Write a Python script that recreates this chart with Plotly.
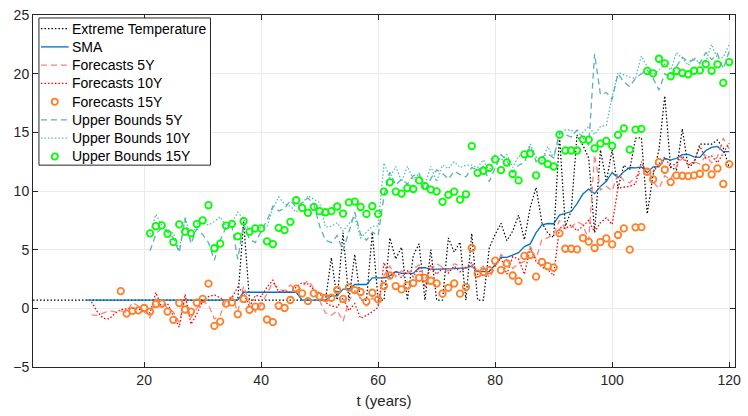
import plotly.graph_objects as go

# ---------------- data ----------------
extreme_t = list(range(1, 121))
extreme = [
    0.7, 0.7, 0.7, 0.7, 0.7, 0.7, 0.7, 0.7, 0.7, 0.7,
    0.7, 0.7, 0.7, 0.7, 0.7, 0.7, 0.7, 0.7, 0.7, 0.7,
    0.7, 0.7, 0.7, 0.7, 0.7, 0.7, 0.7, 0.7, 0.7, 0.7,
    0.7, 0.7, 0.7, 0.7, 0.7, 0.7, 7.4, 0.7, 0.7, 0.7,
    0.7, 0.7, 0.7, 0.7, 0.7, 0.7, 0.7, 0.7, 0.7, 0.7,
    0.7, 4.32, 0.7, 6.44, 0.7, 4.6, 0.7, 0.7, 6.44, 0.7,
    0.7, 6.0, 4.2, 5.2, 0.7, 4.5, 5.5, 0.7, 5.0, 0.7,
    0.7, 6.0, 4.8, 5.65, 0.7, 6.38, 0.7, 0.7, 5.17, 6.3,
    7.25, 5.77, 6.58, 7.94, 5.85, 8.62, 10.3, 7.3, 6.4, 6.05,
    14.7, 7.0, 8.3, 14.8, 13.9, 12.8, 6.45, 13.5, 10.8, 13.5,
    10.25, 12.2, 11.8, 14.5, 14.55, 8.05, 11.4, 13.5, 18.1, 12.0,
    11.8, 15.3, 12.0, 12.4, 14.0, 14.0, 14.0, 14.35, 13.65, 12.0,
]

sma_t = list(range(10, 121))
sma = [
    0.7, 0.7, 0.7, 0.7, 0.7, 0.7, 0.7, 0.7, 0.7, 0.7,
    0.7, 0.7, 0.7, 0.7, 0.7, 0.7, 0.7, 0.7, 0.7, 0.7,
    0.7, 0.7, 0.7, 0.7, 0.7, 0.7, 0.7,
    1.37, 1.37, 1.37, 1.37, 1.37, 1.37, 1.37, 1.37, 1.37, 1.37,
    0.7, 0.7, 0.7, 0.7, 0.7,
    1.06, 1.06, 1.64, 1.64, 2.03, 2.03, 2.03, 2.6, 2.6, 2.6,
    2.77, 3.12, 2.99, 2.99, 2.98, 3.46, 3.46, 3.32, 3.32, 3.32,
    3.32, 3.38, 3.43, 3.43, 3.61, 3.13, 3.13, 3.15, 3.71, 4.37,
    4.34, 4.52, 4.75, 5.26, 5.49, 6.45, 7.11, 7.23, 7.21, 7.95,
    8.07, 8.25, 8.93, 9.74, 10.16, 9.77, 10.39, 10.83, 11.58, 11.13,
    11.65, 12.0, 11.97, 12.04, 11.56, 12.06, 12.06, 12.79, 12.64, 12.79,
    13.1, 13.12, 12.91, 12.86, 13.45, 13.71, 13.8, 13.35, 13.35,
]

fc5_t = list(range(11, 121))
fc5 = [
    -0.55, -0.6, -0.4, -0.2, -0.3, -0.2, -0.35, 0.5, 0.2, -0.3,
    -0.8, 0.8, 0.5, 0.0, -0.3, -1.2, 0.9, -0.8, 0.0, 0.6,
    0.3, -0.9, -0.6, 0.7, 1.0, -0.3, 1.9, 0.5, -0.3, 0.3,
    1.2, 2.2, 1.6, 1.5, 2.0, 1.5, 1.8, 2.4, 1.7, 0.7,
    -0.4, -0.6, -0.2, -1.1, 0.6, 1.5, 0.8, 0.2, 0.9, 0.3,
    2.8, 3.6, 2.7, 3.2, 2.9, 3.4, 3.7, 2.5, 3.3, 3.8,
    3.5, 3.2, 3.8, 3.6, 3.4, 3.5, 3.3, 3.6, 2.6, 3.5,
    4.6, 4.1, 3.4, 3.8, 4.0, 5.3, 4.2, 5.9, 6.0, 6.3,
    7.5, 6.8, 6.9, 7.4, 7.1, 5.8, 13.1, 10.1, 10.4, 10.0,
    11.5, 10.9, 10.7, 11.2, 11.6, 11.9, 10.8, 10.2, 11.3, 11.0,
    12.1, 12.8, 12.2, 12.5, 12.3, 13.0, 12.4, 12.9, 14.5, 13.6,
]

fc10_t = list(range(11, 121))
fc10 = [
    0.55, -0.3, -0.85, -0.9, -0.45, -0.1, -0.05, 0.0, -0.05, -0.2,
    -0.4, 1.35, 0.1, 0.4, -0.6, -1.6, 1.2, -1.35, -0.5, 0.65,
    1.0, 1.15, 0.9, 0.6, 0.9, 1.8, 1.35, 0.1, 1.1, 1.0,
    1.8, 2.4, 1.4, 1.5, 1.4, 1.8, 2.2, 2.07, 1.6, 1.3,
    0.5, 0.2, 0.1, 0.9, -0.2, 0.4, -0.85, -0.6, -0.3, 0.1,
    3.9, 2.6, 3.2, 2.6, 3.2, 2.7, 3.4, 1.8, 3.7, 2.9,
    3.4, 3.0, 3.6, 3.1, 3.5, 3.9, 2.9, 3.3, 3.2, 3.6,
    4.3, 2.9, 4.4, 4.2, 2.9, 5.1, 4.0, 3.5, 3.3, 2.8,
    6.9, 6.8, 7.1, 6.6, 7.0, 7.5, 6.5, 7.3, 7.7, 7.15,
    10.25, 10.3, 10.4, 10.6, 12.5, 11.4, 11.6, 12.3, 12.9, 12.0,
    12.4, 13.0, 12.2, 12.5, 13.8, 12.8, 13.0, 12.4, 13.2, 14.07,
]

fc15_t = list(range(16, 121))
fc15 = [
    1.47, -0.45, -0.22, -0.17, 0.03,
    -0.28, 0.37, 0.4, -0.28, -0.98, 0.45, -0.1, -0.28, 0.48, 0.8,
    2.1, -1.5, -1.13, 0.4, 0.5, -0.5, 0.8, -0.12, 0.15, 0.16,
    -0.95, -1.17, 0.22, 0.03, 0.71, 1.68, 1.27, 0.62, 1.27, 1.02,
    0.88, 0.9, 1.56, 0.8, 1.78, 1.56, 1.39, 0.57, 1.33, 0.76,
    1.9, 2.8, 1.9, 1.61, 1.95, 2.15, 2.6, 2.6, 2.35, 2.12,
    1.25, 1.75, 2.12, 1.25, 1.81, 5.15, 2.95, 3.1, 3.25, 4.06,
    3.25, 3.83, 2.8, 2.32, 4.47, 4.55, 2.7, 3.95, 3.59, 3.47,
    6.39, 5.08, 5.08, 5.03, 5.99, 5.68, 5.14, 5.65, 5.96, 5.45,
    6.25, 6.81, 5.0, 6.9, 6.92, 11.64, 10.99, 12.46, 11.81, 10.76,
    11.33, 11.3, 11.27, 11.33, 11.47, 12.0, 11.41, 11.92, 10.6, 12.29,
]

ub5_t = list(range(21, 121))
ub5 = [
    4.9, 6.3, 6.9, 6.5, 6.0, 4.75, 7.6, 5.5, 6.8, 6.3,
    5.6, 4.1, 5.8, 6.9, 7.0, 4.2, 7.2, 5.9, 5.6, 6.5,
    7.5, 8.7, 8.3, 8.5, 9.2, 8.6, 9.0, 9.4, 8.9, 7.0,
    5.8, 5.6, 6.2, 4.9, 6.5, 8.2, 6.3, 5.8, 6.5, 6.2,
    9.6, 11.6, 10.5, 11.0, 10.6, 11.3, 11.5, 10.0, 11.05, 11.8,
    11.5, 11.0, 11.7, 11.4, 11.2, 12.0, 11.8, 12.1, 10.8, 11.9,
    13.1, 12.6, 11.6, 12.2, 12.4, 13.9, 12.5, 12.9, 13.2, 12.8,
    15.0, 14.8, 14.6, 15.2, 14.6, 13.9, 21.7, 18.2, 18.4, 17.8,
    20.0, 19.3, 18.9, 19.6, 20.0, 20.3, 19.6, 18.6, 20.0, 19.7,
    20.6, 21.4, 21.0, 21.2, 20.9, 21.8, 21.2, 21.7, 20.4, 21.9,
]

ub10_t = list(range(21, 121))
ub10 = [
    6.3, 8.0, 7.1, 6.6, 6.4, 4.9, 7.8, 5.9, 7.2, 7.3,
    7.1, 7.4, 7.8, 7.0, 7.3, 8.2, 7.6, 6.6, 6.5, 6.9,
    7.0, 8.5, 9.5, 8.9, 8.7, 8.2, 8.9, 9.6, 9.3, 9.0,
    6.9, 7.0, 7.3, 6.6, 7.2, 7.85, 6.0, 6.5, 7.0, 7.0,
    12.4, 11.1, 12.1, 10.8, 12.1, 11.0, 11.5, 10.5, 12.1, 10.8,
    12.2, 11.9, 12.5, 12.0, 12.2, 12.2, 12.0, 12.66, 11.7, 13.1,
    12.6, 13.1, 12.0, 13.0, 12.8, 14.0, 12.9, 12.6, 13.8, 12.8,
    14.8, 15.2, 15.2, 14.7, 15.0, 15.5, 14.8, 15.5, 15.6, 18.0,
    20.1, 19.9, 19.7, 19.6, 21.5, 20.6, 19.9, 20.3, 20.8, 20.3,
    21.8, 21.3, 20.7, 21.4, 20.8, 21.0, 22.5, 21.3, 21.4, 22.5,
]

ub15_t = list(range(21, 121))
ub15 = [
    6.39, 7.0, 7.07, 6.36, 5.65, 7.15, 6.53, 6.39, 7.18, 7.49,
    8.79, 5.12, 5.51, 7.05, 7.2, 6.14, 7.42, 6.53, 6.81, 6.81,
    5.71, 5.48, 6.86, 6.67, 7.37, 9.21, 8.56, 8.14, 8.65, 8.28,
    8.19, 8.28, 8.68, 8.08, 9.03, 9.1, 8.64, 8.05, 8.7, 8.05,
    9.95, 10.74, 9.95, 9.78, 10.25, 10.17, 10.9, 10.42, 10.12, 9.97,
    9.08, 9.67, 9.95, 9.27, 9.72, 13.83, 11.55, 11.72, 11.97, 12.69,
    11.78, 12.43, 11.45, 10.9, 13.12, 13.19, 11.33, 12.6, 12.29, 12.09,
    14.8, 13.45, 13.45, 13.45, 14.38, 14.38, 13.64, 14.04, 14.27, 13.85,
    14.78, 15.34, 13.53, 15.23, 15.29, 20.23, 20.03, 21.27, 20.88, 19.78,
    20.23, 20.06, 19.95, 20.25, 20.28, 20.82, 20.25, 20.8, 19.21, 20.99,
]

x_ticks = [20, 40, 60, 80, 100, 120]
y_ticks = [-5, 0, 5, 10, 15, 20, 25]

# ---------------- styles ----------------
DOT = "1.5px,2px"
DASH = "6px,4px"
FONT = "Liberation Sans, Arial, sans-serif"

series = [
    # name, x, y, kind, color, dash
    ("Extreme Temperature", extreme_t, extreme, "line", "#000000", DOT),
    ("SMA", sma_t, sma, "line", "#0072BD", None),
    ("Forecasts 5Y", fc5_t, fc5, "line", "#FF8080", DASH),
    ("Forecasts 10Y", fc10_t, fc10, "line", "#FF0000", DOT),
    ("Forecasts 15Y", fc15_t, fc15, "marker", "#FF7F27", None),
    ("Upper Bounds 5Y", ub5_t, ub5, "line", "#5FB0B0", DASH),
    ("Upper Bounds 10Y", ub10_t, ub10, "line", "#50C0B0", DOT),
    ("Upper Bounds 15Y", ub15_t, ub15, "marker", "#00FF00", None),
]

fig = go.Figure()
for name, xs, ys, kind, color, dash in series:
    if kind == "line":
        w = 1.2 if name == "Extreme Temperature" else 1.3
        fig.add_trace(go.Scatter(x=xs, y=ys, mode="lines", name=name, showlegend=False,
                                 line=dict(color=color, width=w, dash=dash)))
    else:
        fig.add_trace(go.Scatter(x=xs, y=ys, mode="markers", name=name, showlegend=False,
                                 marker=dict(symbol="circle-open", size=6.5, color=color,
                                             line=dict(width=1.8, color=color))))

# ---------------- legend box drawn in paper coordinates ----------------
L_PLOT, T_PLOT, W_PLOT, H_PLOT = 33, 13, 708, 354


def px_x(px):
    return (px - L_PLOT) / W_PLOT


def px_y(py):
    return (T_PLOT + H_PLOT - py) / H_PLOT


shapes = [dict(type="rect", xref="paper", yref="paper", layer="above",
               x0=px_x(39), x1=px_x(212), y0=px_y(164), y1=px_y(16),
               fillcolor="white", line=dict(color="#262626", width=1))]
annotations = []
row0, row_step = 26.7, 18.37
for i, (name, xs, ys, kind, color, dash) in enumerate(series):
    yc = px_y(row0 + i * row_step)
    if kind == "line":
        shapes.append(dict(type="line", xref="paper", yref="paper", layer="above",
                           x0=px_x(41), x1=px_x(69), y0=yc, y1=yc,
                           line=dict(color=color, width=1.3, dash=dash or "solid")))
    else:
        shapes.append(dict(type="circle", xref="paper", yref="paper", layer="above",
                           xsizemode="pixel", ysizemode="pixel",
                           xanchor=px_x(55), yanchor=yc,
                           x0=-3.1, x1=3.1, y0=-3.1, y1=3.1,
                           line=dict(color=color, width=1.8)))
    annotations.append(dict(xref="paper", yref="paper", x=px_x(70), y=yc,
                            xanchor="left", yanchor="middle", showarrow=False,
                            text=name, font=dict(family=FONT, size=14, color="#000000")))

axis_common = dict(
    showline=True, linecolor="#262626", linewidth=1, mirror="ticks",
    ticks="inside", ticklen=5, tickcolor="#262626", tickwidth=1,
    showgrid=True, gridcolor="#EBEBEB", gridwidth=1, zeroline=False,
    tickfont=dict(family=FONT, size=14, color="#262626"),
)

fig.update_layout(
    width=748, height=416,
    margin=dict(l=L_PLOT, r=748 - L_PLOT - W_PLOT, t=T_PLOT, b=416 - T_PLOT - H_PLOT),
    paper_bgcolor="white", plot_bgcolor="white",
    showlegend=False,
    shapes=shapes,
    annotations=annotations,
    xaxis=dict(range=[1, 121], tickvals=x_ticks,
               title=dict(text="t (years)", font=dict(family=FONT, size=15, color="#262626"),
                          standoff=8),
               **axis_common),
    yaxis=dict(range=[-5, 25], tickvals=y_ticks, **axis_common),
)

fig.write_html("out.html")
